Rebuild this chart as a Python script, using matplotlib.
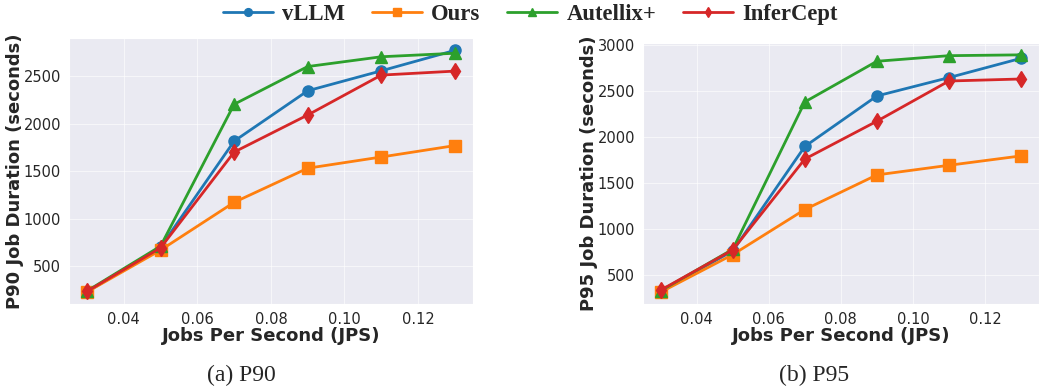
import matplotlib
matplotlib.use("Agg")
import matplotlib.pyplot as plt
import seaborn as sns

# job arrival rates
jps = [0.03, 0.05, 0.07, 0.09, 0.11, 0.13]

# P90 job duration (seconds)
p90_vllm = [228, 700, 1815, 2345, 2555, 2770]
p90_ours = [228, 668, 1171, 1530, 1648, 1768]
p90_autellix = [238, 710, 2203, 2600, 2703, 2740]
p90_infercept = [234, 692, 1700, 2090, 2510, 2552]

# P95 job duration (seconds)
p95_vllm = [318, 757, 1895, 2445, 2645, 2855]
p95_ours = [308, 717, 1208, 1585, 1690, 1792]
p95_autellix = [323, 775, 2380, 2823, 2884, 2893]
p95_infercept = [330, 768, 1758, 2170, 2608, 2630]

names = ["vLLM", "Ours", "Autellix+", "InferCept"]
colors = ["#1f77b4", "#ff7f0e", "#2ca02c", "#d62728"]
markers = ["o", "s", "^", "d"]

sns.set_style("darkgrid")
plt.rcParams["font.family"] = ["DejaVu Sans"]

fig = plt.figure(figsize=(10.4, 3.89), dpi=100)
ax1 = fig.add_axes([0.066, 0.2185, 0.389, 0.683])
ax2 = fig.add_axes([0.618, 0.2185, 0.381, 0.671])

panels = [
    (ax1, [p90_vllm, p90_ours, p90_autellix, p90_infercept],
     "P90 Job Duration (seconds)", "(a) P90", 0.232, -0.111),
    (ax2, [p95_vllm, p95_ours, p95_autellix, p95_infercept],
     "P95 Job Duration (seconds)", "(b) P95", 0.783, -0.114),
]

handles = []
for ax, series, ylab, cap, capx, labx in panels:
    hs = []
    for vals, name, c, m in zip(series, names, colors, markers):
        h, = ax.plot(jps, vals, color=c, marker=m, markersize=8, linewidth=2, label=name)
        hs.append(h)
    handles = hs
    ax.set_xticks([0.04, 0.06, 0.08, 0.10, 0.12])
    ax.set_xticklabels(["0.04", "0.06", "0.08", "0.10", "0.12"])
    ax.tick_params(labelsize=10.5, pad=2)
    ax.set_xlabel("Jobs Per Second (JPS)", fontsize=13, fontweight="bold", labelpad=0)
    ax.set_ylabel(ylab, fontsize=13, fontweight="bold")
    ax.yaxis.set_label_coords(labx, 0.5)
    ax.grid(True, color="white", linewidth=0.8, alpha=0.6)
    fig.text(capx, 0.035, cap, ha="center", va="center", fontsize=17,
             family="Liberation Serif")

fig.legend(handles=handles, labels=names, loc="center", bbox_to_anchor=(0.51, 0.962),
           ncol=4, frameon=False, handlelength=2.2, columnspacing=1.2, handletextpad=0.4,
           markerscale=0.7, prop={"family": "Liberation Serif", "weight": "bold", "size": 16.3})

fig.savefig("out.png", dpi=100)
